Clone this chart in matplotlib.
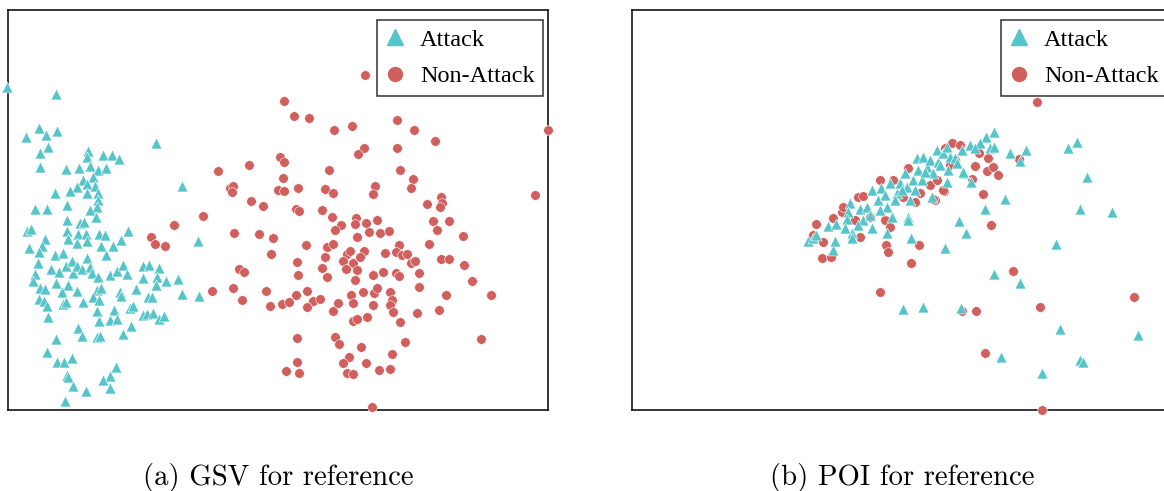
import matplotlib
matplotlib.use("Agg")
import matplotlib.pyplot as plt
from matplotlib.lines import Line2D

# point positions (embedding units, y grows downward)
gsv_attack = [
    (7, 87), (56, 94), (39, 128), (26, 137), (46, 135), (57, 131), (48, 147), (40, 153), (40, 167),
    (156, 143), (88, 151), (103, 155), (112, 155), (119, 159), (87, 157), (66, 169), (79, 168),
    (90, 166), (98, 170), (106, 168), (93, 177), (83, 180), (77, 187), (70, 191), (87, 184),
    (95, 186), (98, 193), (87, 193), (55, 193), (98, 200), (97, 207), (90, 210), (67, 205),
    (35, 209), (47, 209), (182, 186), (96, 217), (67, 220), (80, 223), (84, 222), (27, 231),
    (31, 229), (67, 231), (78, 234), (86, 234), (99, 234), (105, 235), (128, 231), (45, 239),
    (68, 239), (77, 243), (87, 241), (121, 240), (198, 241), (113, 246), (101, 246), (29, 248),
    (42, 246), (39, 252), (55, 255), (63, 253), (106, 255), (38, 263), (35, 274), (33, 281),
    (51, 269), (59, 272), (66, 266), (72, 261), (73, 273), (77, 266), (82, 269), (87, 258),
    (90, 267), (92, 273), (98, 277), (110, 275), (117, 271), (123, 265), (127, 274), (143, 266),
    (149, 265), (159, 268), (143, 278), (157, 277), (166, 281), (178, 279), (156, 285), (40, 288),
    (45, 289), (56, 283), (68, 285), (62, 292), (77, 291), (97, 290), (101, 288), (120, 292),
    (121, 296), (136, 289), (148, 297), (152, 297), (182, 294), (199, 296), (39, 299), (44, 301),
    (47, 306), (63, 304), (66, 302), (83, 302), (93, 297), (99, 300), (97, 311), (114, 310),
    (130, 308), (133, 306), (143, 315), (147, 314), (153, 313), (159, 319), (164, 316), (48, 317),
    (99, 321), (110, 320), (117, 319), (131, 326), (78, 328), (82, 336), (97, 337), (100, 336),
    (123, 334), (56, 339), (47, 352), (57, 362), (64, 362), (72, 358), (116, 367), (110, 376),
    (103, 380), (67, 375), (68, 377), (73, 386), (86, 391), (110, 388), (65, 401),
]
gsv_normal = [
    (365, 75), (284, 101), (294, 116), (309, 118), (334, 130), (352, 126), (397, 120), (414, 130),
    (435, 141), (548, 130), (397, 148), (364, 148), (358, 154), (280, 157), (284, 162), (249, 165),
    (218, 171), (329, 170), (400, 170), (413, 179), (411, 188), (283, 178), (230, 188), (233, 186),
    (232, 192), (278, 190), (284, 191), (298, 188), (325, 189), (333, 193), (375, 186), (373, 194),
    (535, 195), (251, 201), (263, 206), (296, 209), (299, 211), (322, 210), (332, 217), (356, 218),
    (355, 224), (366, 223), (377, 220), (341, 225), (335, 230), (441, 197), (442, 203), (440, 207),
    (427, 204), (433, 221), (449, 221), (437, 230), (463, 236), (203, 216), (174, 225), (151, 237),
    (234, 233), (259, 234), (273, 238), (357, 237), (369, 232), (380, 233), (389, 231), (155, 244),
    (165, 246), (306, 245), (327, 247), (333, 244), (271, 254), (297, 262), (325, 257), (347, 254),
    (350, 251), (364, 251), (343, 261), (353, 263), (360, 257), (346, 269), (357, 270), (322, 268),
    (298, 275), (327, 277), (355, 280), (373, 275), (383, 272), (385, 253), (399, 245), (396, 252),
    (402, 255), (407, 254), (411, 263), (415, 261), (396, 273), (399, 276), (419, 273), (429, 244),
    (441, 259), (449, 259), (464, 265), (472, 281), (419, 287), (446, 295), (491, 295), (239, 269),
    (244, 272), (212, 291), (233, 288), (242, 300), (266, 291), (270, 306), (282, 304), (289, 302),
    (296, 295), (307, 291), (313, 301), (307, 307), (320, 299), (333, 311), (338, 303), (351, 295),
    (353, 303), (363, 292), (374, 293), (377, 288), (373, 305), (390, 292), (392, 300), (390, 305),
    (393, 312), (417, 313), (439, 310), (367, 317), (353, 321), (357, 319), (400, 322), (297, 338),
    (335, 337), (339, 344), (361, 347), (405, 342), (481, 339), (392, 354), (349, 357), (343, 363),
    (366, 363), (297, 362), (286, 371), (299, 373), (347, 373), (353, 374), (379, 370), (390, 369),
    (372, 407),
]
poi_attack = [
    (994, 132), (986, 137), (1077, 142), (1068, 148), (1026, 150), (1010, 153), (1020, 161),
    (1087, 177), (1005, 199), (985, 209), (1080, 209), (1112, 212), (959, 221), (966, 233),
    (911, 238), (945, 248), (1056, 244), (994, 274), (1020, 283), (903, 309), (923, 307),
    (961, 308), (1060, 329), (1138, 335), (1001, 357), (1080, 360), (1083, 362), (1042, 373),
    (971, 182), (964, 173),
    (808, 241), (813, 238), (816, 235), (828, 226), (836, 224), (833, 250), (835, 241), (850, 203),
    (848, 212), (847, 219), (852, 233), (852, 238), (860, 209), (863, 220), (867, 207), (872, 190),
    (872, 228), (878, 200), (881, 188), (887, 207), (890, 183), (892, 217), (887, 233), (897, 193),
    (900, 183), (905, 173), (907, 187), (910, 200), (908, 217), (908, 220), (913, 180), (917, 158),
    (918, 170), (922, 180), (923, 157), (927, 167), (930, 160), (933, 173), (937, 150), (938, 162),
    (943, 153), (947, 147), (948, 170), (950, 157), (955, 158), (957, 163), (947, 182), (932, 197),
    (963, 172), (970, 145), (980, 143), (990, 148), (994, 147),
    (925, 172), (915, 190), (895, 200), (880, 210), (870, 215), (858, 225), (845, 228),
    (940, 165), (962, 150), (975, 148), (885, 195), (902, 190),
]
poi_normal = [
    (1037, 102), (979, 153), (988, 158), (975, 166), (987, 171), (993, 167), (998, 175), (972, 179),
    (983, 194), (991, 225), (919, 245), (886, 245), (888, 252), (911, 263), (1013, 271), (880, 292),
    (962, 311), (976, 311), (1040, 307), (1134, 297), (985, 353), (1042, 410), (1019, 159),
    (944, 191), (935, 200),
    (816, 224), (813, 235), (823, 242), (822, 258), (831, 257), (833, 218), (842, 212), (855, 220),
    (858, 197), (863, 196), (860, 237), (870, 217), (880, 180), (885, 220), (890, 227), (893, 180),
    (903, 197), (908, 168), (915, 202), (920, 193), (930, 185), (937, 180), (943, 190), (933, 199),
    (945, 148), (952, 143), (960, 145), (955, 160), (950, 165), (843, 207),
]
captions = ["(a) GSV for reference", "(b) POI for reference"]
labels = ["Attack", "Non-Attack"]

TEAL = "#56C5CA"
RED = "#D15F5D"

W, H = 1164, 491
fig = plt.figure(figsize=(W / 100, H / 100), dpi=100)


def panel(left_px, attack, normal, caption):
    ax = fig.add_axes([left_px / W, (H - 410) / H, 540 / W, 400 / H])
    ax.set_xlim(left_px, left_px + 540)
    ax.set_ylim(410, 10)
    nx, ny = zip(*normal)
    ax.scatter(nx, ny, s=48, marker="o", color=RED, edgecolors="white",
               linewidths=0.4, clip_on=False, zorder=3)
    tx, ty = zip(*attack)
    ax.scatter(tx, ty, s=62, marker="^", color=TEAL, edgecolors="white",
               linewidths=0.4, clip_on=False, zorder=4)
    ax.set_xticks([])
    ax.set_yticks([])
    for sp in ax.spines.values():
        sp.set_linewidth(1.1)
        sp.set_color("black")
    handles = [
        Line2D([], [], marker="^", ls="none", color=TEAL, markersize=11),
        Line2D([], [], marker="o", ls="none", color=RED, markersize=10),
    ]
    leg = ax.legend(handles, labels, loc="upper right",
                    bbox_to_anchor=(535 / 540, 0.975),
                    prop={"family": "Liberation Serif", "size": 17.5},
                    frameon=True, fancybox=False, edgecolor="black",
                    handletextpad=0.62, labelspacing=0.6, borderpad=0.35,
                    handlelength=0.8, borderaxespad=0)
    leg.get_frame().set_linewidth(1.1)
    ax.text(0.5, (410 - 477) / 400, caption, transform=ax.transAxes,
            ha="center", va="center", fontsize=20.7, family="cmr10")
    return ax


panel(8, gsv_attack, gsv_normal, captions[0])
panel(632, poi_attack, poi_normal, captions[1])

fig.savefig("out.png", dpi=100)
